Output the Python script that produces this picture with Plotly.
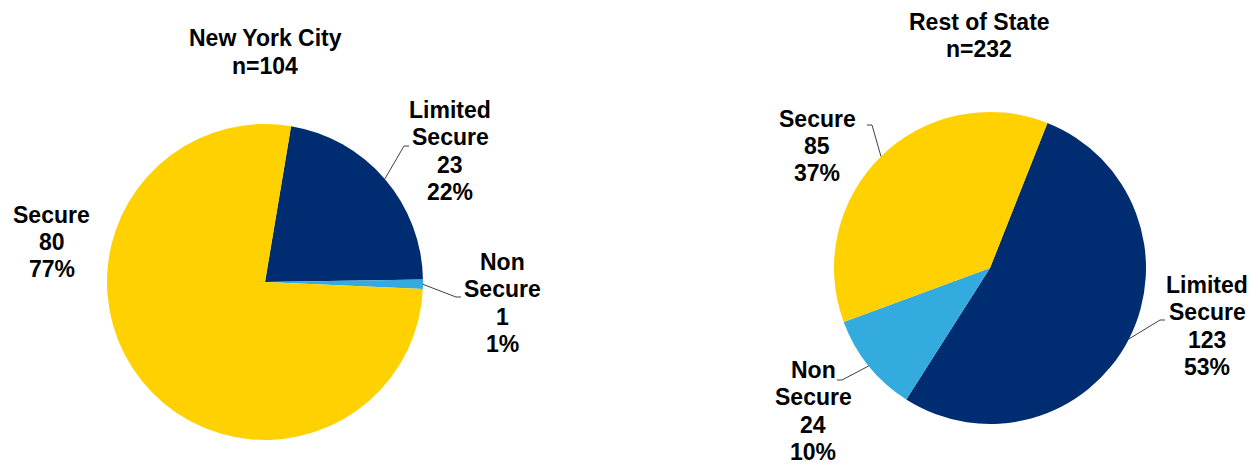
import math
import plotly.graph_objects as go

W, H = 1258, 466

# data
categories = ["Limited Secure", "Non Secure", "Secure"]
nyc_counts = [23, 1, 80]
ros_counts = [123, 24, 85]
nyc_pct = [22, 1, 77]
ros_pct = [53, 10, 37]
colors = ["#002D72", "#33ABDF", "#FFD100"]

# layout (pixels): pie centre, radius, start angle, label blocks
pies = [
    dict(name="New York City", counts=nyc_counts, pct=nyc_pct, cx=265, cy=282, r=158, rot=9.5,
         title_xy=(265, 52),
         labels=[dict(tx=450, ty=151, elbow=(404, 146), side=1),
                 dict(tx=502, ty=303, elbow=(456, 297), side=1),
                 dict(tx=52, ty=242, elbow=None, side=0)]),
    dict(name="Rest of State", counts=ros_counts, pct=ros_pct, cx=990, cy=268, r=156, rot=21.6,
         title_xy=(979, 35.5),
         labels=[dict(tx=1207, ty=326, elbow=(1160, 320), side=1),
                 dict(tx=813, ty=411, elbow=(842, 380), side=-1),
                 dict(tx=817, ty=146, elbow=(872, 125), side=-1)]),
]
LINE_H = 27.4


def px(x):
    return x / W


def py(y):
    return 1 - y / H


font = dict(family="Liberation Sans, Arial, sans-serif", size=23, color="black")


def text_block(lines, x, yc):
    # one annotation per line so the line spacing matches the original
    out = []
    n = len(lines)
    for i, t in enumerate(lines):
        y = yc + (i - (n - 1) / 2) * LINE_H
        out.append(dict(x=px(x), y=py(y), xref="paper", yref="paper",
                        text=f"<b>{t}</b>", showarrow=False, font=font,
                        xanchor="center", yanchor="middle", borderpad=0))
    return out


fig = go.Figure()
annotations = []
shapes = []

for p in pies:
    cx, cy, r = p["cx"], p["cy"], p["r"]
    fig.add_trace(go.Pie(
        labels=categories, values=p["counts"], sort=False, direction="clockwise",
        rotation=p["rot"], textinfo="none", showlegend=False,
        marker=dict(colors=colors, line=dict(width=0)),
        domain=dict(x=[px(cx - r), px(cx + r)], y=[py(cy + r), py(cy - r)]),
    ))
    tot = sum(p["counts"])
    annotations += text_block([p["name"], f"n={tot}"], *p["title_xy"])
    cum = 0
    for cat, v, pc, lab in zip(categories, p["counts"], p["pct"], p["labels"]):
        mid = math.radians(p["rot"] + 360 * (cum + v / 2) / tot)
        cum += v
        annotations += text_block(cat.split(" ") + [str(v), f"{pc}%"], lab["tx"], lab["ty"])
        if lab["elbow"] is not None:
            ex = cx + r * math.sin(mid)
            ey = cy - r * math.cos(mid)
            bx, by = lab["elbow"]
            path = (f"M {px(ex)},{py(ey)} L {px(bx)},{py(by)} "
                    f"L {px(bx + 5 * lab['side'])},{py(by)}")
            shapes.append(dict(type="path", path=path, xref="paper", yref="paper",
                               line=dict(color="#404040", width=1)))

fig.update_layout(
    width=W, height=H, margin=dict(l=0, r=0, t=0, b=0),
    paper_bgcolor="white", plot_bgcolor="white",
    annotations=annotations, shapes=shapes,
)

fig.write_html("out.html", config={"displayModeBar": False},
               post_script="document.body.style.margin='0';")
